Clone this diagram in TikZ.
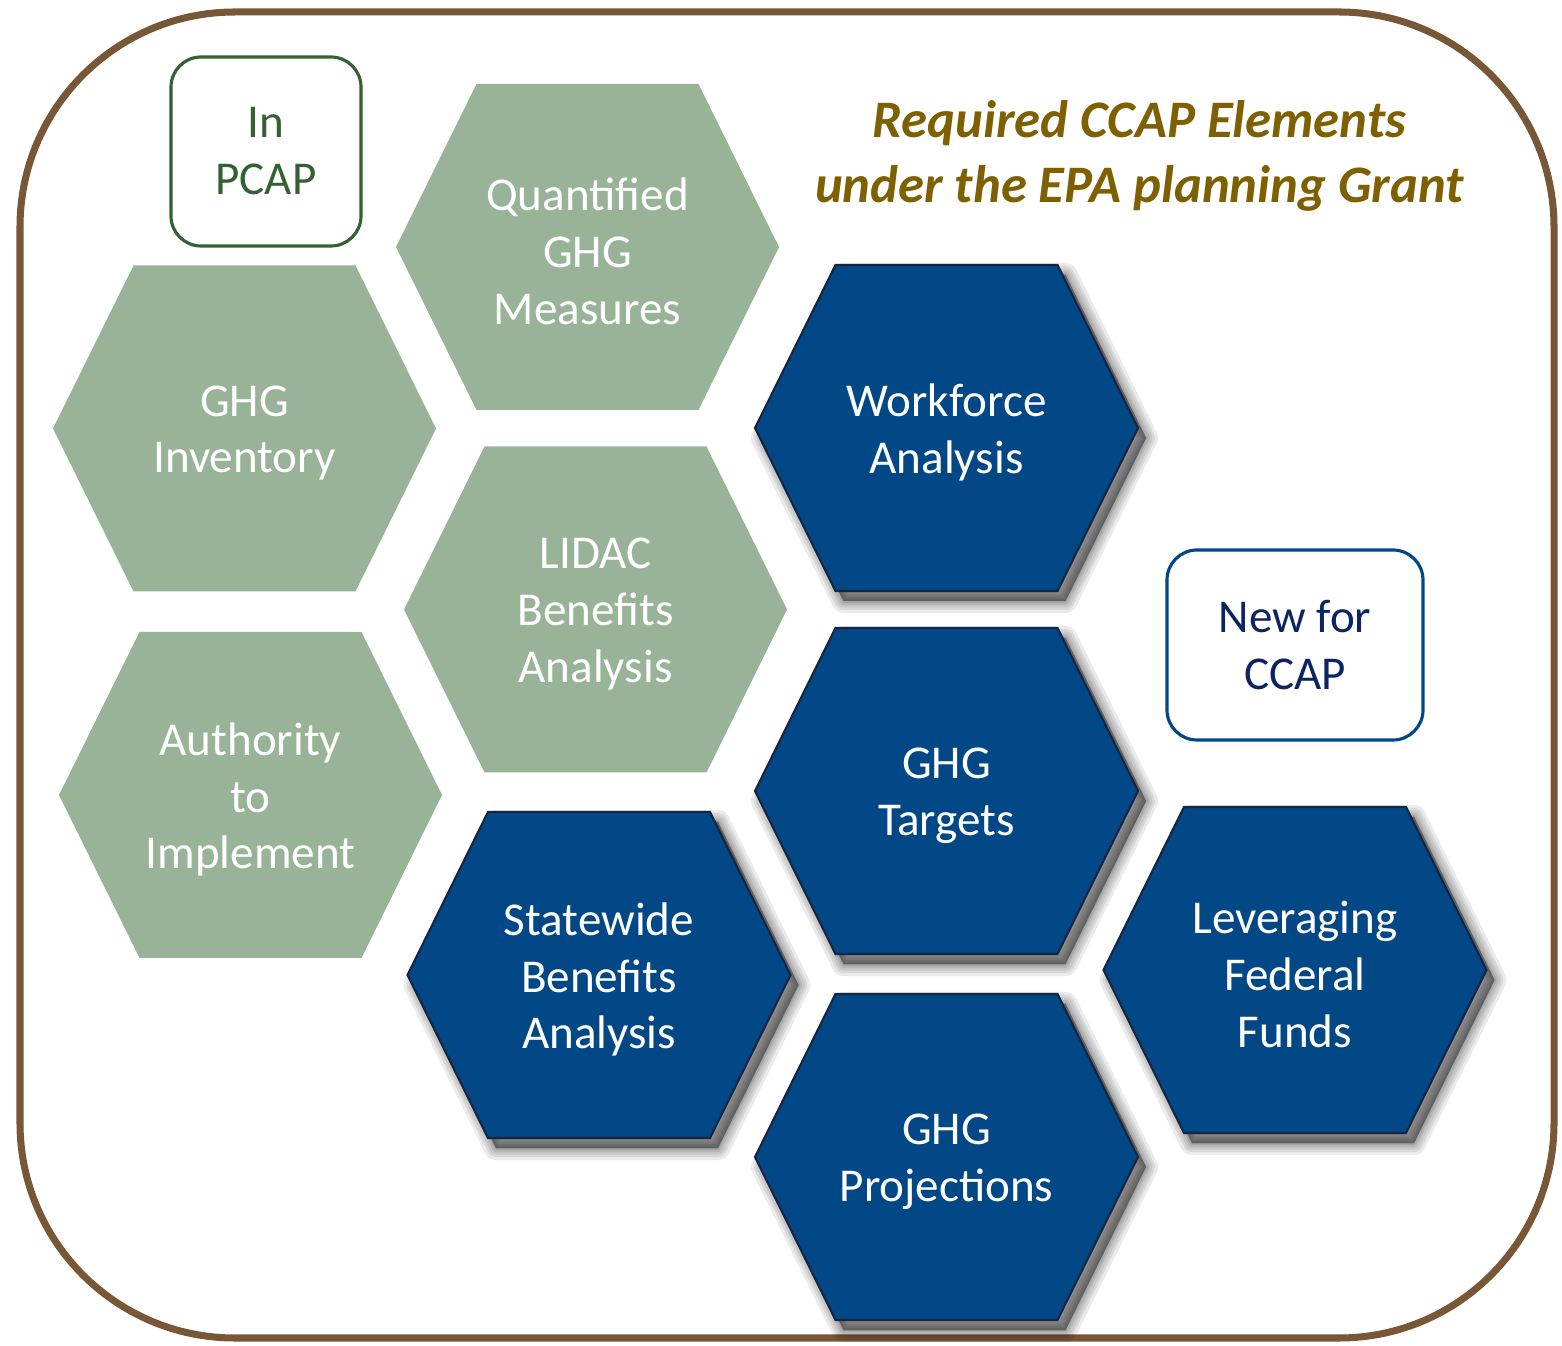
\documentclass[tikz,border=0pt]{standalone}
\usepackage{fontspec}
\setmainfont{Carlito}
\definecolor{ccapblue}{RGB}{2,72,134}
\definecolor{ccapnavy}{RGB}{22,38,66}
\definecolor{ccapsage}{RGB}{153,179,153}
\definecolor{ccapgreen}{RGB}{52,96,52}
\definecolor{ccapbrown}{RGB}{120,87,55}
\definecolor{ccapgold}{RGB}{127,96,0}
\definecolor{ccapink}{RGB}{12,36,100}

% outline of one cell, round its centre
\newcommand{\hexpath}{(-1.915,0) -- (-1.11,1.63) -- (1.11,1.63) -- (1.915,0)
    -- (1.11,-1.63) -- (-1.11,-1.63) -- cycle}
% one hexagon cell: name, centre, look, text
\newcommand{\hexcell}[4]{%
  \path[#3,shift={(#2)}] \hexpath;
  \node[hexlabel] (#1) at (#2) {#4};}

\begin{document}
\begin{tikzpicture}[
  font=\fontsize{13.4}{16.2}\selectfont,
  sage/.style={fill=ccapsage},
  navy/.style={fill=ccapblue,draw=ccapnavy,line width=0.6pt},
  shadowpane/.style={fill=black,draw=black,opacity=0.08,line join=round},
  hexlabel/.style={text=white,align=center,inner sep=0pt,yshift=-0.045cm},
  keybox/.style={rounded corners=0.3cm,line width=0.9pt,fill=white,align=center,inner sep=0pt},
  frame/.style={draw=ccapbrown,line width=2pt,rounded corners=2.15cm}]

\useasboundingbox (0,0) rectangle (15.62,13.45);
\fill[white] (0,0) rectangle (15.62,13.45);
\draw[frame] (0.2,0.07) rectangle (15.54,13.33);

% soft shadows under the new elements
\foreach \pos in {{9.465,9.17},{9.465,5.54},{5.99,3.70},{9.465,1.88},{12.95,3.75}}
  \foreach \w in {0.24,0.18,0.13,0.08,0.04,0.01}
    \filldraw[shadowpane,line width=\w cm,shift={(\pos)},xshift=0.08cm,yshift=-0.1cm] \hexpath;

% elements already in the PCAP
\hexcell{qmeas}{5.875,10.98}{sage}{Quantified\\GHG\\Measures}
\hexcell{inventory}{2.445,9.165}{sage}{GHG\\Inventory}
\hexcell{lidac}{5.955,7.355}{sage}{LIDAC\\Benefits\\Analysis}
\hexcell{authority}{2.505,5.50}{sage}{Authority\\to\\Implement}

% elements new for the CCAP
\hexcell{workforce}{9.465,9.17}{navy}{Workforce\\Analysis}
\hexcell{targets}{9.465,5.54}{navy}{GHG\\Targets}
\hexcell{statewide}{5.99,3.70}{navy}{Statewide\\Benefits\\Analysis}
\hexcell{projections}{9.465,1.88}{navy}{GHG\\Projections}
\hexcell{federal}{12.95,3.75}{navy}{Leveraging\\Federal\\Funds}

% key boxes
\node[keybox,draw=ccapgreen,text=ccapgreen,minimum width=1.9cm,minimum height=1.89cm] (inpcap) at (2.66,11.935) {In\\PCAP};
\node[keybox,draw=ccapblue,text=ccapink,minimum width=2.56cm,minimum height=1.9cm] (newccap) at (12.95,7.0) {New for\\CCAP};

\node[align=center,text=ccapgold,font=\fontsize{15}{18.5}\selectfont\bfseries\itshape] (title) at (11.395,11.895)
  {Required CCAP Elements\\under the EPA planning Grant};
\end{tikzpicture}
\end{document}
